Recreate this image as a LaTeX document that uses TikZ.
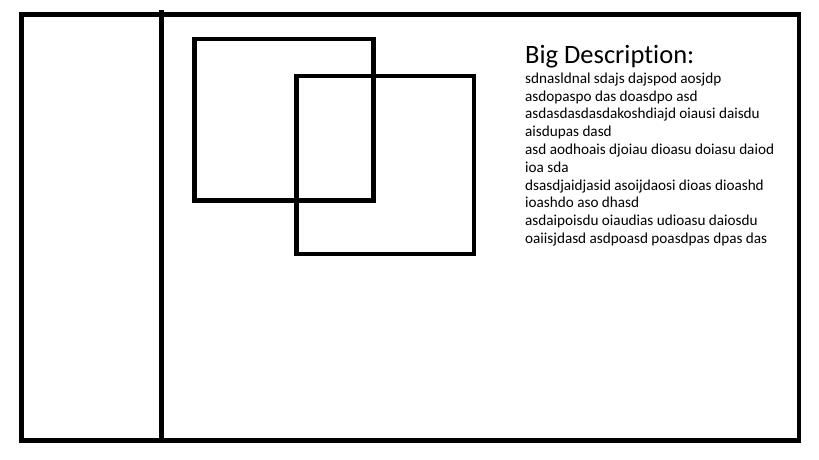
\documentclass[tikz,border=0pt]{standalone}
\usepackage{fontspec}
\setmainfont{Carlito}[Ligatures=NoCommon]
\tikzset{
  frame/.style={line width=4.5pt, draw=black},
  bodyline/.style={anchor=base west, inner sep=0pt, font=\fontsize{15.2}{17.8}\selectfont},
  titletext/.style={anchor=base west, inner sep=0pt, font=\fontsize{26.5}{30}\selectfont}
}
\begin{document}
\begin{tikzpicture}[x=1pt,y=-1pt]
\useasboundingbox (0,0) rectangle (819,460);
\fill[white] (0,0) rectangle (819,460);
% outer frame
\draw[frame] (21.7,14.5) rectangle (799,440.5);
\coordinate (vt) at (161.7,10.5);
\coordinate (vb) at (161.7,440.5);
\draw[frame] (vt) -- (vb);
% overlapping boxes
\draw[frame] (194.5,39) rectangle (373.5,200.5);
\draw[frame] (296.5,76) rectangle (474,254);
% text
\node[titletext] (title) at (525,63.3) {Big Description:};
\foreach \t [count=\i from 0] in {
  sdnasldnal sdajs dajspod aosjdp,
  asdopaspo das doasdpo asd,
  asdasdasdasdakoshdiajd oiausi daisdu,
  aisdupas dasd,
  asd aodhoais djoiau dioasu doiasu daiod,
  ioa sda,
  dsasdjaidjasid asoijdaosi dioas dioashd,
  ioashdo aso dhasd,
  asdaipoisdu oiaudias udioasu daiosdu,
  oaiisjdasd asdpoasd poasdpas dpas das}
  \node[bodyline] (line\i) at (525,83.3+17.8*\i) {\t};
\end{tikzpicture}
\end{document}
